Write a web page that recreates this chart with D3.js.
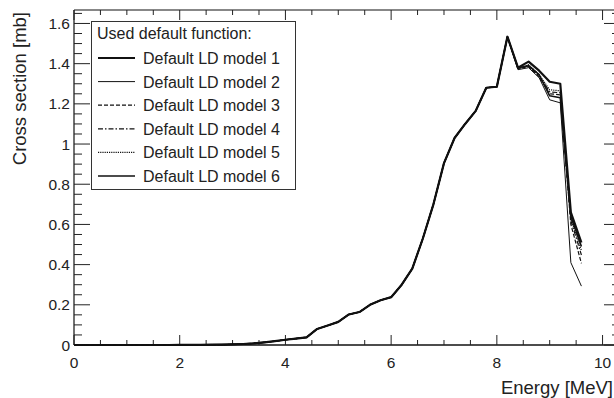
<!DOCTYPE html>
<html>
<head>
<meta charset="utf-8">
<script src="https://cdn.jsdelivr.net/npm/d3@7"></script>
<style>
	body { margin: 0; background: #fff; }
	text { font-family: 'Liberation Sans', Arial, sans-serif; fill: #222; }
</style>
</head>
<body>
<script>
// energies in MeV, 0.2 MeV grid
var energy = [0, 0.2, 0.4, 0.6, 0.8, 1.0, 1.2, 1.4, 1.6, 1.8,
	2.0, 2.2, 2.4, 2.6, 2.8, 3.0, 3.2, 3.4, 3.6, 3.8,
	4.0, 4.2, 4.4, 4.6, 4.8, 5.0, 5.2, 5.4, 5.6, 5.8,
	6.0, 6.2, 6.4, 6.6, 6.8, 7.0, 7.2, 7.4, 7.6, 7.8,
	8.0, 8.2, 8.4, 8.6, 8.8, 9.0, 9.2, 9.4, 9.6];

// shared part of all models, 0 .. 8.2 MeV
var shared = [0, 0, 0, 0, 0, 0, 0, 0, 0, 0,
	0.0003, 0.0005, 0.001, 0.0015, 0.002, 0.003, 0.005, 0.008, 0.013, 0.019,
	0.026, 0.032, 0.038, 0.08, 0.097, 0.115, 0.152, 0.164, 0.2, 0.223,
	0.238, 0.30, 0.38, 0.53, 0.70, 0.905, 1.03, 1.10, 1.165, 1.28,
	1.285, 1.534];

// 8.4 .. 9.6 MeV, per model
var tail1 = [1.38, 1.41, 1.365, 1.31, 1.30, 0.66, 0.51];
var tail2 = [1.37, 1.38, 1.33, 1.22, 1.205, 0.41, 0.293];
var tail3 = [1.375, 1.385, 1.335, 1.25, 1.245, 0.60, 0.406];
var tail4 = [1.375, 1.39, 1.34, 1.26, 1.255, 0.62, 0.448];
var tail5 = [1.375, 1.395, 1.345, 1.27, 1.265, 0.63, 0.47];
var tail6 = [1.38, 1.39, 1.345, 1.24, 1.23, 0.64, 0.49];

var modelNames = ['Default LD model 1', 'Default LD model 2', 'Default LD model 3',
	'Default LD model 4', 'Default LD model 5', 'Default LD model 6'];
var xTicks = [0, 2, 4, 6, 8, 10];
var yTicks = [0, 0.2, 0.4, 0.6, 0.8, 1, 1.2, 1.4, 1.6];

var styles = [
	{ w: 2.2, dash: null },
	{ w: 1, dash: null },
	{ w: 1.2, dash: '4,2' },
	{ w: 1.2, dash: '5,2,1.5,2' },
	{ w: 1.2, dash: '1.2,1' },
	{ w: 1.6, dash: null }
];

var tails = [tail1, tail2, tail3, tail4, tail5, tail6];
var models = tails.map(function(t, i) {
	var vals = shared.concat(t);
	return {
		name: modelNames[i],
		style: styles[i],
		points: energy.map(function(e, j) { return [e, vals[j]]; })
	};
});

// ---------------------------- d3 -----------------------------------

var svgWidth = 614, svgHeight = 398;
var padLeft = 74, padRight = 620, padTop = 10, padBottom = 345;

var x = d3.scaleLinear().domain([0, 10.33]).range([padLeft, padRight]);
var y = d3.scaleLinear().domain([0, 1.667]).range([padBottom, padTop]);

var svg = d3.select('body').append('svg').attr('width', svgWidth).attr('height', svgHeight);

function tickValues(step, max) {
	return d3.range(0, max + 1e-9, step);
}

// frame lines
svg.append('line').attr('x1', padLeft).attr('x2', padRight).attr('y1', padBottom).attr('y2', padBottom)
	.attr('stroke', '#111').attr('stroke-width', 1.6);
svg.append('line').attr('x1', padLeft).attr('x2', padRight).attr('y1', padTop).attr('y2', padTop)
	.attr('stroke', '#111').attr('stroke-width', 1.2);
svg.append('line').attr('x1', padLeft).attr('x2', padLeft).attr('y1', padTop).attr('y2', padBottom)
	.attr('stroke', '#111').attr('stroke-width', 1.2);

var tickG = svg.append('g').attr('stroke', '#222').attr('stroke-width', 1);

// x ticks bottom and top
tickValues(0.5, 10).forEach(function(v) {
	var major = Math.abs(v % 2) < 1e-6;
	var len = major ? 10 : 5;
	tickG.append('line').attr('x1', x(v)).attr('x2', x(v)).attr('y1', padBottom).attr('y2', padBottom - len);
	tickG.append('line').attr('x1', x(v)).attr('x2', x(v)).attr('y1', padTop).attr('y2', padTop + len);
});

// y ticks left and right
tickValues(0.05, 1.65).forEach(function(v) {
	var major = Math.round(v * 100) % 20 === 0;
	var len = major ? 16 : 8;
	tickG.append('line').attr('x1', padLeft).attr('x2', padLeft + len).attr('y1', y(v)).attr('y2', y(v));
	tickG.append('line').attr('x1', padRight).attr('x2', padRight - len).attr('y1', y(v)).attr('y2', y(v));
});

svg.selectAll('.xl').data(xTicks).enter().append('text')
	.attr('x', function(d) { return x(d); })
	.attr('y', 368)
	.attr('text-anchor', 'middle')
	.attr('font-size', '15.5px')
	.text(function(d) { return d; });

svg.selectAll('.yl').data(yTicks).enter().append('text')
	.attr('x', 70)
	.attr('y', function(d) { return y(d) + 5.5; })
	.attr('text-anchor', 'end')
	.attr('font-size', '15.5px')
	.text(function(d) { return d; });

svg.append('text').attr('x', 613).attr('y', 394).attr('text-anchor', 'end')
	.attr('font-size', '18.5px').text('Energy [MeV]');

svg.append('text').attr('transform', 'translate(26,12) rotate(-90)')
	.attr('text-anchor', 'end').attr('font-size', '18.5px').text('Cross section [mb]');

// curves
var line = d3.line().x(function(d) { return x(d[0]); }).y(function(d) { return y(d[1]); });

svg.selectAll('.curve').data(models).enter().append('path')
	.attr('d', function(d) { return line(d.points); })
	.attr('fill', 'none')
	.attr('stroke', '#111')
	.attr('stroke-linejoin', 'round')
	.attr('stroke-width', function(d) { return d.style.w; })
	.attr('stroke-dasharray', function(d) { return d.style.dash; });

// legend
var legend = svg.append('g');
legend.append('rect').attr('x', 91.5).attr('y', 21.5).attr('width', 204).attr('height', 168)
	.attr('fill', '#fff').attr('stroke', '#333').attr('stroke-width', 1);
legend.append('text').attr('x', 97).attr('y', 39).attr('font-size', '16px').text('Used default function:');

var rows = legend.selectAll('.row').data(models).enter().append('g')
	.attr('transform', function(d, i) { return 'translate(0,' + (58 + i * 23.6) + ')'; });
rows.append('line').attr('x1', 98).attr('x2', 135).attr('y1', 0).attr('y2', 0)
	.attr('stroke', '#111')
	.attr('stroke-width', function(d) { return d.style.w; })
	.attr('stroke-dasharray', function(d) { return d.style.dash; });
rows.append('text').attr('x', 143).attr('y', 6).attr('font-size', '16px')
	.text(function(d) { return d.name; });
</script>
</body>
</html>
